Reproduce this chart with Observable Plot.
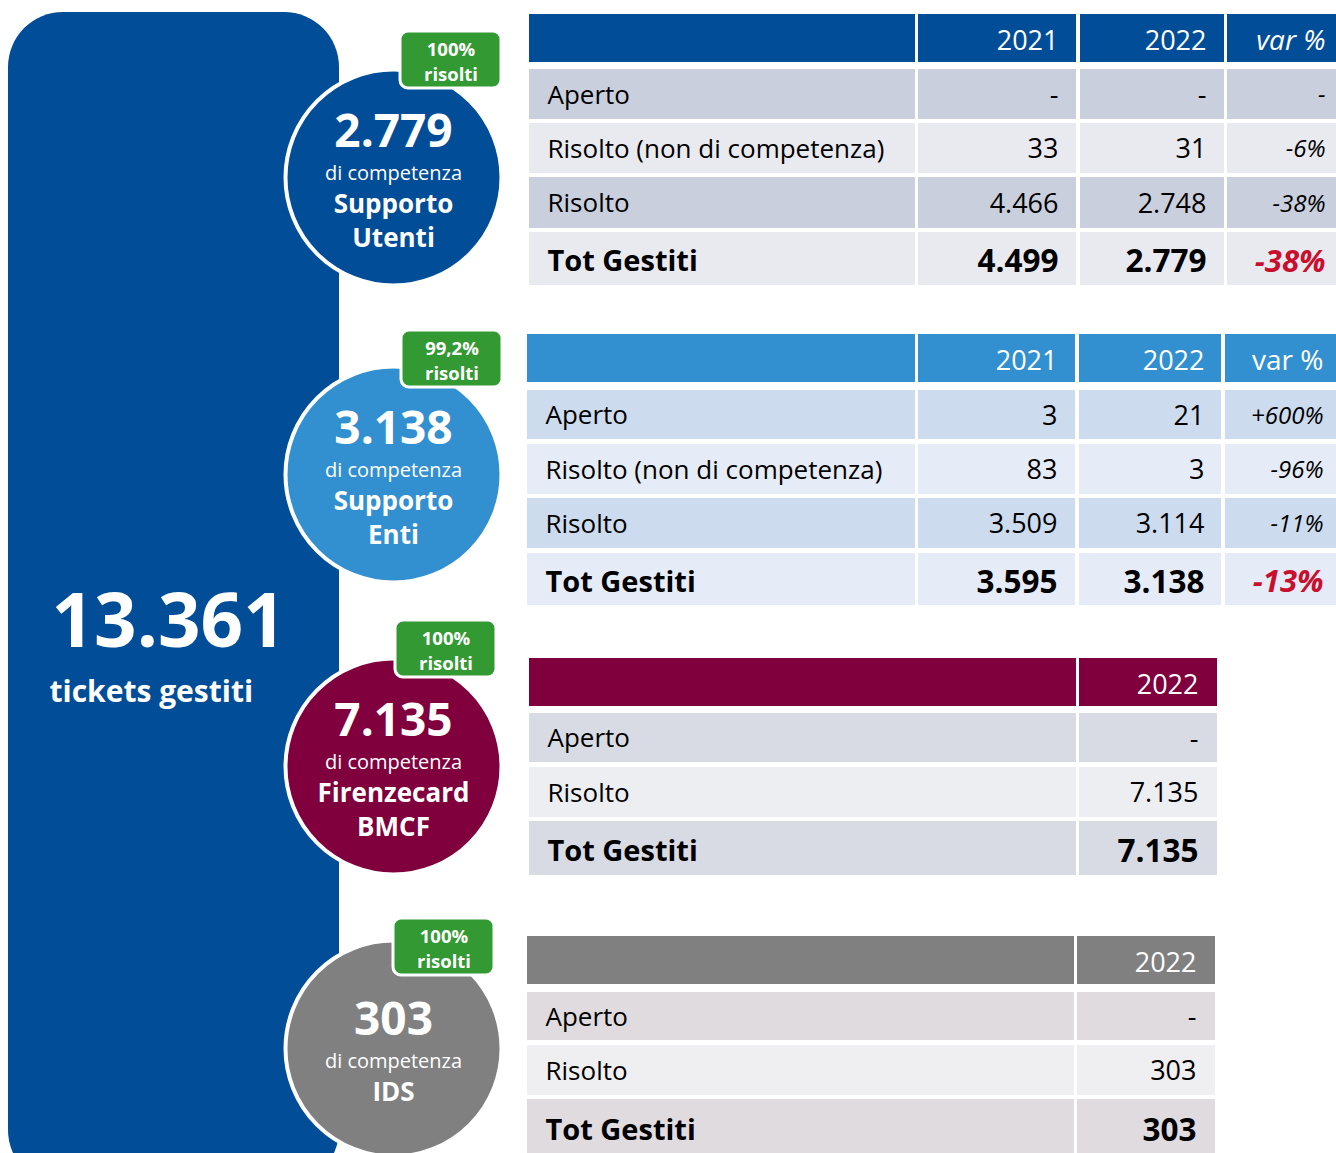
<!DOCTYPE html>
<html>
<head>
<meta charset="utf-8">
<script src="https://cdn.jsdelivr.net/npm/d3@7"></script>
<script src="https://cdn.jsdelivr.net/npm/@observablehq/plot@0.6"></script>
<style>
  html, body { margin: 0; padding: 0; background: #fff; overflow: hidden; }
  svg { display: block; }
</style>
</head>
<body>
<div id="chart"></div>
<script>
// ---------- DATA ----------
const totalTickets = 13361;
const totalLabel = "tickets gestiti";
const groupNames = [["Supporto", "Utenti"], ["Supporto", "Enti"], ["Firenzecard", "BMCF"], ["IDS"]];
const groupTotals = [2779, 3138, 7135, 303];
const resolvedShare = ["100%", "99,2%", "100%", "100%"];
const competenceLabel = "di competenza";
const resolvedLabel = "risolti";
const years = ["2021", "2022"];
const varHeader = "var %";
const rowsLong = ["Aperto", "Risolto (non di competenza)", "Risolto", "Tot Gestiti"];
const rowsShort = ["Aperto", "Risolto", "Tot Gestiti"];
const utenti2021 = [null, 33, 4466, 4499];
const utenti2022 = [null, 31, 2748, 2779];
const utentiVar = [null, -6, -38, -38];
const enti2021 = [3, 83, 3509, 3595];
const enti2022 = [21, 3, 3114, 3138];
const entiVar = [600, -96, -11, -13];
const firenze2022 = [null, 7135, 7135];
const ids2022 = [null, 303, 303];

// ---------- FORMAT ----------
const itNum = d3.formatLocale({decimal: ",", thousands: ".", grouping: [3], currency: ["", "€"], minus: "-"}).format(",d");
const fmtVal = v => v == null ? "-" : itNum(v);
const fmtVar = v => v == null ? "-" : (v > 0 ? "+" : "-") + Math.abs(v) + "%";

// ---------- LAYOUT / STYLE ----------
const FONT = "Open Sans";
const BLUE = "#024D98", LIGHTBLUE = "#3390D0", MAROON = "#7F003D", GREY = "#808080", GREEN = "#339933", RED = "#C8102E";
const circleColors = [BLUE, LIGHTBLUE, MAROON, GREY];
const circleCY = [177, 474, 766, 1048];
const badgeBox = [[400, 31], [401, 330], [395, 620], [393, 918]];

const tables = [
  {head: BLUE, dark: "#C9CFDC", light: "#E8EAF0", header: [14, 62],
   rows: [[69, 119], [123, 173], [177, 228], [232, 285]],
   cols: [[529, 915], [918, 1076], [1080, 1224], [1227, 1345]], pad: [18, 18, 20],
   labels: rowsLong,
   columns: [
     {head: years[0], vals: utenti2021.map(fmtVal)},
     {head: years[1], vals: utenti2022.map(fmtVal)},
     {head: varHeader, vals: utentiVar.map(fmtVar), isVar: true, headItalic: true}
   ]},
  {head: LIGHTBLUE, dark: "#CCDCEE", light: "#E6ECF7", header: [334, 382],
   rows: [[390, 439], [444, 494], [498, 548], [553, 605]],
   cols: [[527, 915], [918, 1075], [1079, 1221], [1225, 1345]], pad: [18, 17, 22],
   labels: rowsLong,
   columns: [
     {head: years[0], vals: enti2021.map(fmtVal)},
     {head: years[1], vals: enti2022.map(fmtVal)},
     {head: varHeader, vals: entiVar.map(fmtVar), isVar: true}
   ]},
  {head: MAROON, dark: "#D8DBE3", light: "#ECEEF2", header: [658, 706],
   rows: [[713, 762], [767, 817], [821, 875]],
   cols: [[529, 1076], [1079, 1217]], pad: [19],
   labels: rowsShort,
   columns: [{head: years[1], vals: firenze2022.map(fmtVal)}]},
  {head: GREY, dark: "#DFDBDF", light: "#EFEEF1", header: [936, 984],
   rows: [[992, 1040], [1045, 1095], [1099, 1156]],
   cols: [[527, 1074], [1077, 1215]], pad: [19],
   labels: rowsShort,
   columns: [{head: years[1], vals: ids2022.map(fmtVal)}]}
];

// ---------- BUILD MARK DATA ----------
const rects = [];
const texts = [];
const T = (x, y, text, size, o = {}) => texts.push({x, y, text, size, fill: o.fill || "#000",
  weight: o.weight || "normal", style: o.style || "normal", anchor: o.anchor || "middle",
  lh: o.lh || 1});

tables.forEach(t => {
  const last = t.rows.length - 1;
  t.cols.forEach((c, ci) => {
    rects.push({x1: c[0], x2: c[1], y1: t.header[0], y2: t.header[1], fill: t.head});
    t.rows.forEach((r, ri) => rects.push({x1: c[0], x2: c[1], y1: r[0], y2: r[1], fill: ri % 2 === 0 ? t.dark : t.light}));
  });
  const hy = (t.header[0] + t.header[1]) / 2 + 3;
  t.rows.forEach((r, ri) => {
    const tot = ri === last;
    const cy = (r[0] + r[1]) / 2 + (tot ? 3 : 1);
    T(t.cols[0][0] + 18, cy, t.labels[ri], tot ? 29 : 26, {anchor: "start", weight: tot ? "bold" : "normal"});
  });
  t.columns.forEach((col, k) => {
    const c = t.cols[k + 1];
    const xr = Math.min(c[1], 1336) - t.pad[k] + (col.isVar ? 9 : 0);
    T(xr, hy, col.head, col.isVar ? 28 : 27, {anchor: "end", fill: "#fff", style: col.headItalic ? "italic" : "normal"});
    col.vals.forEach((v, ri) => {
      const tot = ri === last;
      const cy = (t.rows[ri][0] + t.rows[ri][1]) / 2 + (tot ? 3 : 1);
      if (col.isVar) {
        T(xr, cy, v, tot ? 31 : 24, {anchor: "end", style: "italic", weight: tot ? "bold" : "normal", fill: tot ? RED : "#000"});
      } else {
        T(xr, cy, v, tot ? 31.5 : 27, {anchor: "end", weight: tot ? "bold" : "normal"});
      }
    });
  });
});

const circles = groupTotals.map((v, i) => ({x: 393, y: circleCY[i], fill: circleColors[i]}));
const badges = badgeBox.map(([x, y]) => ({x1: x, x2: x + 101, y1: y, y2: y + 57, fill: GREEN}));

groupTotals.forEach((v, i) => {
  const cy = circleCY[i];
  const names = groupNames[i];
  const shift = names.length === 1 ? 17 : 0;
  T(393, cy - 45 + shift, fmtVal(v), 46, {fill: "#fff", weight: "bold"});
  T(393, cy - 4 + shift, competenceLabel, 20, {fill: "#fff"});
  T(393, cy + 25 + (names.length - 1) * 17 + shift, names.join("\n"), 26, {fill: "#fff", weight: "bold", lh: 1.3});
  const [bx, by] = badgeBox[i];
  T(bx + 50.5, by + 29, resolvedShare[i] + "\n" + resolvedLabel, 18.5, {fill: "#fff", weight: "bold", lh: 1.37});
});

T(51, 623, fmtVal(totalTickets), 74.5, {fill: "#fff", weight: "bold", anchor: "start"});
T(49, 692, totalLabel, 30, {fill: "#fff", weight: "bold", anchor: "start"});

// group texts by constant styles
const groups = d3.groups(texts, d => `${d.weight}|${d.style}|${d.anchor}|${d.lh}`);
const textMarks = groups.map(([key, items]) => {
  const [w, s, a, lh] = key.split("|");
  return Plot.text(items, {x: "x", y: "y", text: "text", fill: "fill", fontSize: "size",
    fontWeight: w, fontStyle: s, textAnchor: a, lineHeight: +lh, fontFamily: FONT});
});

const chart = Plot.plot({
  width: 1336,
  height: 1153,
  margin: 0,
  x: {domain: [0, 1336], range: [0, 1336], axis: null},
  y: {domain: [0, 1153], range: [0, 1153], axis: null},
  color: {type: "identity"},
  style: {fontFamily: FONT, background: "#fff"},
  marks: [
    Plot.rect([{x1: 8, x2: 339, y1: 12, y2: 1185}], {x1: "x1", x2: "x2", y1: "y1", y2: "y2", fill: BLUE, rx: 55}),
    Plot.dot(circles, {x: "x", y: "y", r: 108, fill: "fill", stroke: "#fff", strokeWidth: 4}),
    Plot.rect(badges, {x1: "x1", x2: "x2", y1: "y1", y2: "y2", fill: "fill", rx: 8, stroke: "#fff", strokeWidth: 3}),
    Plot.rect(rects, {x1: "x1", x2: "x2", y1: "y1", y2: "y2", fill: "fill"}),
    ...textMarks
  ]
});
document.getElementById("chart").appendChild(chart);
</script>
</body>
</html>
